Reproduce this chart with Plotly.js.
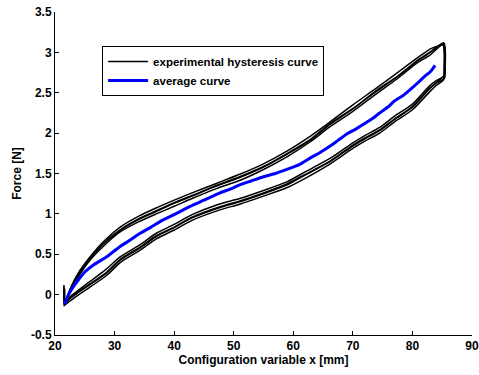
<!DOCTYPE html>
<html>
<head>
<meta charset="utf-8">
<script src="https://cdn.plot.ly/plotly-3.0.1.min.js"></script>
<style>html,body{margin:0;padding:0;background:#fff;}#chart{width:479px;height:375px;}</style>
</head>
<body>
<div id="chart"></div>
<script>
// Cycle 1: upper branch (left->right), drop at right end, lower branch (right->left)
const cycle1X = [21.5,21.5,21.6,22.5,24,26,28,31,34,37,40,43,47,51,55,59,63,66,70,74,77.5,81,83,85.2,85.4,85.4,85.4,84,82.9,80,77,74.5,72,70,66,62,59,55,51,47.7,43,40,37,34.3,31,28.7,26,24,22.5,21.6];
const cycle1Y = [0.10,-0.14,-0.12,0.05,0.25,0.45,0.62,0.80,0.93,1.03,1.13,1.22,1.34,1.45,1.58,1.74,1.92,2.10,2.30,2.52,2.70,2.90,3.00,3.12,3.05,2.85,2.68,2.62,2.55,2.32,2.17,2.03,1.93,1.84,1.64,1.48,1.36,1.25,1.15,1.08,0.95,0.83,0.72,0.58,0.43,0.27,0.13,0.03,-0.05,-0.12];
const cycle2X = [21.6,21.7,22.6,24.1,26,28.2,31,34,37.2,40,43,47.2,51,55,59,63,66.2,70,74,77.5,81,83.2,85.3,85.4,85.4,85.3,84,82.8,80,77,74.5,72,70,66,62,59,55,51,47.5,43,40,37,34.3,31,28.5,26,24,22.6,21.7];
const cycle2Y = [0.08,-0.12,0.08,0.29,0.48,0.66,0.84,0.97,1.08,1.17,1.26,1.38,1.49,1.62,1.78,1.97,2.14,2.35,2.56,2.75,2.94,3.05,3.09,3.02,2.80,2.71,2.65,2.58,2.36,2.21,2.07,1.97,1.88,1.68,1.52,1.40,1.29,1.19,1.12,0.99,0.87,0.76,0.62,0.47,0.31,0.17,0.06,-0.02,-0.10];
const cycle3X = [21.5,21.6,22.4,23.9,25.8,28,30.8,34,37,40.2,43,47,51.2,55,59,62.8,66,70,74,77.4,80.8,83,85.1,85.3,85.3,85.2,84,83,80,77,74.5,72,70,66,62,58.8,55,51,47.7,43,40,37,34.3,31,28.7,26,24,22.5,21.6];
const cycle3Y = [0.12,-0.11,0.03,0.22,0.42,0.59,0.77,0.90,1.00,1.10,1.19,1.31,1.42,1.55,1.71,1.89,2.07,2.27,2.49,2.67,2.87,2.97,3.10,3.03,2.78,2.66,2.59,2.52,2.29,2.14,2.00,1.90,1.81,1.61,1.44,1.32,1.22,1.12,1.05,0.92,0.80,0.69,0.55,0.40,0.24,0.10,0.00,-0.08,-0.13];
const cycle4X = [21.6,21.7,22.5,24,26.1,28.1,31.1,34.1,37,40,43.1,47,51,55.1,59,63,66,70.1,74,77.6,81,83.1,85.3,85.5,85.5,85.4,84.1,82.9,80,77.1,74.5,72,70,66.1,62,58.9,55,51,47.7,43,40.1,37,34.3,31,28.7,26,24,22.5,21.6];
const cycle4Y = [0.06,-0.13,0.06,0.26,0.47,0.63,0.81,0.94,1.04,1.14,1.23,1.35,1.46,1.59,1.75,1.93,2.11,2.31,2.53,2.71,2.91,3.01,3.11,3.04,2.82,2.72,2.63,2.56,2.33,2.18,2.04,1.94,1.85,1.65,1.49,1.37,1.26,1.16,1.09,0.96,0.84,0.73,0.59,0.44,0.28,0.14,0.04,-0.04,-0.11];

const avgX = [21.6,22.2,23,24,25,26.5,28.7,31,32.5,34.3,36,38,40,42.6,45,47.7,49.5,51,53,55,57,58.9,61,63,64.5,66,67.5,69,70.5,72,73.3,74.5,76,77,78.5,80.1,81,82,83,83.8];
const avgY = [-0.12,-0.01,0.09,0.19,0.28,0.37,0.47,0.60,0.67,0.76,0.83,0.92,0.99,1.09,1.17,1.26,1.31,1.36,1.41,1.46,1.50,1.55,1.61,1.70,1.76,1.83,1.91,1.99,2.05,2.12,2.18,2.25,2.33,2.40,2.47,2.57,2.63,2.70,2.76,2.84];

const legendBlack = 'experimental hysteresis curve';
const legendBlue = 'average curve';
const xTitle = 'Configuration variable x [mm]';
const yTitle = 'Force [N]';
const xTicks = [20,30,40,50,60,70,80,90];
const yTicks = [-0.5,0,0.5,1,1.5,2,2.5,3,3.5];
const yTickText = ['-0.5','0','0.5','1','1.5','2','2.5','3','3.5'];

const cycles = [[cycle1X,cycle1Y],[cycle2X,cycle2Y],[cycle3X,cycle3Y],[cycle4X,cycle4Y]];
const traces = cycles.map((c,i)=>({
  x:c[0], y:c[1], type:'scatter', mode:'lines',
  line:{color:'#000000', width:1.5, shape:'spline', smoothing:0.7},
  name:legendBlack, legendgroup:'exp', showlegend:i===0
}));
traces.push({x:avgX, y:avgY, type:'scatter', mode:'lines', line:{color:'#0000ff', width:3, shape:'spline', smoothing:0.6}, name:legendBlue});

const fnt = {family:'Liberation Sans, Arial, sans-serif', size:12, color:'#000', weight:'bold'};
const layout = {
  width:479, height:375,
  margin:{l:55, r:7, t:12, b:40},
  paper_bgcolor:'#fff', plot_bgcolor:'#fff',
  showlegend:true,
  legend:{x:0.113, y:0.895, xanchor:'left', yanchor:'top', bordercolor:'#000', borderwidth:1, bgcolor:'#fff',
    font:{family:'Liberation Sans, Arial, sans-serif', size:11.5, color:'#000', weight:'bold'}, tracegroupgap:0, itemwidth:40},
  xaxis:{range:[20,90], tickvals:xTicks, ticktext:xTicks.map(String), ticks:'inside', ticklen:4, tickcolor:'#000',
    showline:true, linecolor:'#000', linewidth:1, showgrid:false, zeroline:false, tickfont:fnt,
    title:{text:xTitle, font:fnt, standoff:2}},
  yaxis:{range:[-0.5,3.5], tickvals:yTicks, ticktext:yTickText, ticks:'inside', ticklen:4, tickcolor:'#000',
    showline:true, linecolor:'#000', linewidth:1, showgrid:false, zeroline:false, tickfont:fnt,
    title:{text:yTitle, font:fnt, standoff:6}}
};
Plotly.newPlot('chart', traces, layout, {displayModeBar:false, staticPlot:true});
</script>
</body>
</html>
